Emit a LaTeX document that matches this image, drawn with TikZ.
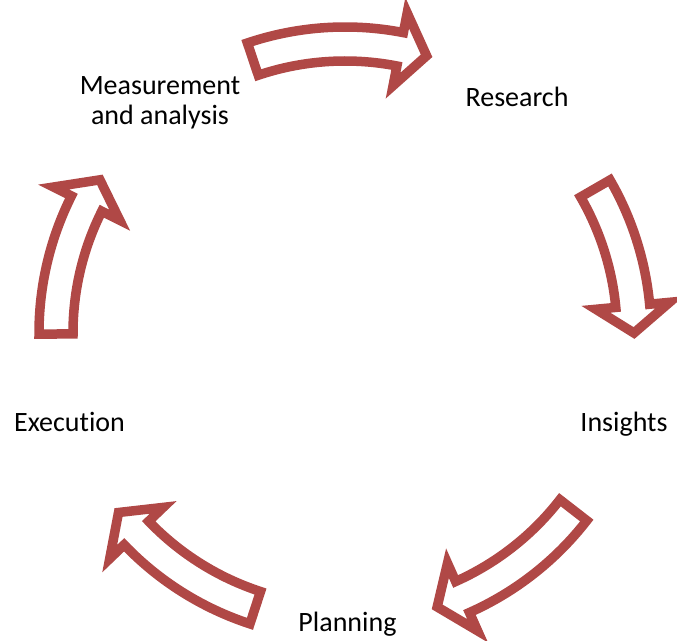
\documentclass[tikz,border=0pt]{standalone}
\usepackage{fontspec}
\setmainfont{Carlito}[Ligatures=NoCommon]
\definecolor{cyclered}{RGB}{176,72,70}
\tikzset{
  cyclearrow/.style={draw=cyclered, fill=white, line width=9.5pt, line join=miter},
  steplabel/.style={font=\fontsize{28}{30.7}\selectfont, text=black, inner sep=0pt, anchor=base, align=center}
}
% Curved block arrow on the cycle ring: #1 = tail angle, #2 = tip angle (clockwise)
\newcommand\ringarrow[2]{%
  \pgfmathsetmacro\headang{#2+5.4}%
  \path[cyclearrow] (#1:306pt) arc[start angle=#1, end angle=\headang, radius=306pt]
    -- (\headang:326pt) -- (#2:289pt) -- (\headang:252pt) -- (\headang:272pt)
    arc[start angle=\headang, end angle=#1, radius=272pt] -- cycle;
}
\begin{document}
\begin{tikzpicture}[x=1pt,y=1pt]
  \useasboundingbox (0,0) rectangle (677,640);
  % step labels
  \node[steplabel] (research)  at (517,533.3) {Research};
  \node[steplabel] (insights)  at (624,208.3) {Insights};
  \node[steplabel] (planning)  at (347.5,8.3) {Planning};
  \node[steplabel] (execution) at (69.5,208.3) {Execution};
  \node[steplabel] (measure)   at (160,515) {Measurement\\and analysis};
  % arrows around the ring
  \begin{scope}[shift={(345,307)}]
    \ringarrow{108.6}{73.6}
    \ringarrow{30}{0}
    \ringarrow{-37.8}{-71.4}
    \ringarrow{251.9}{218.4}
    \ringarrow{180.2}{148}
  \end{scope}
\end{tikzpicture}
\end{document}
